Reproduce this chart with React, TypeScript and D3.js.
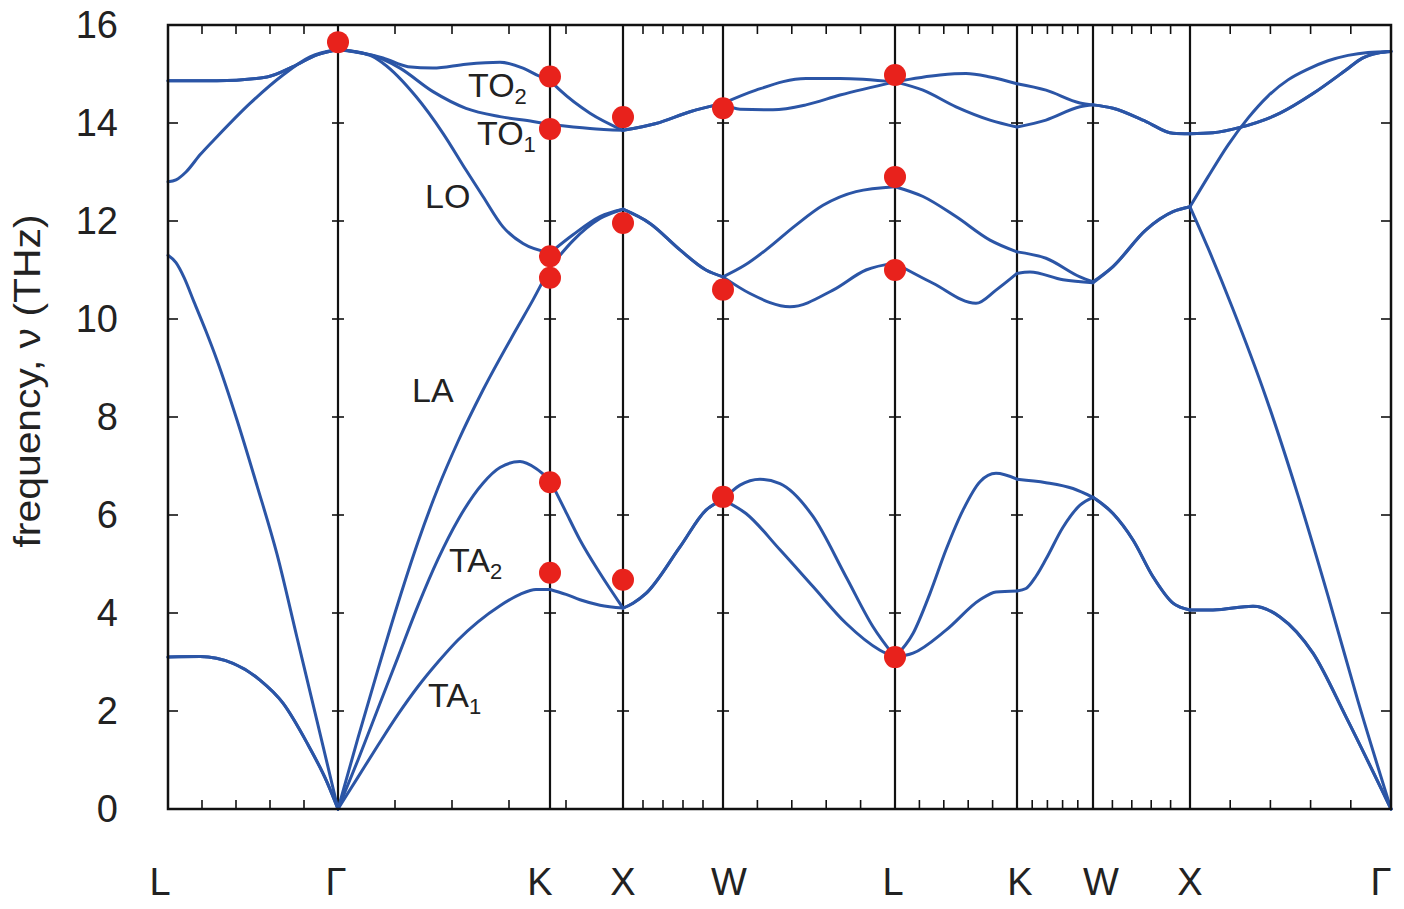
import React from 'react';
import * as d3 from 'd3';

// high-symmetry points along the path (k in units of 2π/a)
const symLabels = ['L', 'Γ', 'K', 'X', 'W', 'L', 'K', 'W', 'X', 'Γ'];
const symK = [0, 0.85, 1.91, 2.275, 2.775, 3.635, 4.245, 4.625, 5.11, 6.115];
const freqTicks = [0, 2, 4, 6, 8, 10, 12, 14, 16];

// phonon branches, [k, frequency THz]
const ta1 = [
  [0, 3.1], [0.16, 3.11], [0.325, 2.97], [0.46, 2.63], [0.575, 2.16], [0.695, 1.35], [0.795, 0.55], [0.85, 0],
  [0.95, 0.65], [1.05, 1.3], [1.15, 1.93], [1.25, 2.5], [1.35, 3.0], [1.45, 3.45], [1.55, 3.82], [1.66, 4.15], [1.76, 4.38], [1.84, 4.48], [1.91, 4.48],
  [1.99, 4.38], [2.06, 4.27], [2.16, 4.16], [2.275, 4.1],
  [2.325, 4.2], [2.39, 4.4], [2.56, 5.35], [2.69, 6.1], [2.775, 6.31],
  [2.89, 6.03], [3.06, 5.29], [3.225, 4.54], [3.39, 3.79], [3.56, 3.24], [3.635, 3.1],
  [3.725, 3.18], [3.89, 3.65], [4.06, 4.27], [4.14, 4.43], [4.245, 4.45],
  [4.29, 4.5], [4.34, 4.75], [4.39, 5.1], [4.475, 5.75], [4.56, 6.2], [4.625, 6.36],
  [4.725, 6.03], [4.825, 5.49], [4.925, 4.74], [5.025, 4.2], [5.11, 4.06],
  [5.225, 4.06], [5.425, 4.14], [5.56, 3.92], [5.725, 3.18], [5.89, 1.88], [6.115, 0],
];
const ta2 = [
  [0, 3.1], [0.16, 3.11], [0.325, 2.97], [0.46, 2.63], [0.575, 2.16], [0.695, 1.35], [0.795, 0.55], [0.85, 0],
  [0.95, 1.0], [1.05, 2.05], [1.15, 3.1], [1.25, 4.15], [1.35, 5.1], [1.45, 5.9], [1.575, 6.65], [1.66, 6.97], [1.76, 7.09], [1.84, 6.95], [1.91, 6.71],
  [1.985, 6.1], [2.06, 5.49], [2.16, 4.81], [2.275, 4.1],
  [2.325, 4.2], [2.39, 4.4], [2.56, 5.35], [2.69, 6.1], [2.775, 6.31],
  [2.86, 6.61], [2.96, 6.73], [3.06, 6.64], [3.225, 5.97], [3.39, 4.74], [3.525, 3.72], [3.635, 3.1],
  [3.725, 3.58], [3.81, 4.4], [3.89, 5.29], [3.975, 6.1], [4.06, 6.68], [4.14, 6.85], [4.245, 6.73],
  [4.39, 6.66], [4.525, 6.54], [4.625, 6.36],
  [4.725, 6.03], [4.825, 5.49], [4.925, 4.74], [5.025, 4.2], [5.11, 4.06],
  [5.225, 4.06], [5.425, 4.14], [5.56, 3.92], [5.725, 3.18], [5.89, 1.88], [6.115, 0],
];
const la = [
  [0, 11.3], [0.04, 11.15], [0.08, 10.85], [0.13, 10.35], [0.19, 9.75], [0.245, 9.16], [0.345, 7.94], [0.445, 6.6], [0.545, 5.2], [0.645, 3.5], [0.745, 1.8], [0.85, 0],
  [0.95, 1.45], [1.05, 2.85], [1.15, 4.2], [1.25, 5.45], [1.35, 6.55], [1.45, 7.5], [1.575, 8.55], [1.74, 9.78], [1.825, 10.39], [1.91, 11.05],
  [2.025, 11.6], [2.16, 12.05], [2.275, 12.24],
  [2.41, 11.95], [2.56, 11.41], [2.69, 11.0], [2.775, 10.86],
  [2.91, 10.52], [3.11, 10.25], [3.325, 10.59], [3.49, 11.0], [3.635, 11.14],
  [3.825, 10.73], [4.04, 10.32], [4.14, 10.59], [4.245, 10.93],
  [4.31, 10.96], [4.475, 10.8], [4.625, 10.74],
  [4.725, 11.07], [4.89, 11.82], [5.025, 12.19], [5.11, 12.29],
  [5.2, 11.45], [5.325, 10.2], [5.49, 8.4], [5.65, 6.4], [5.8, 4.35], [5.95, 2.2], [6.115, 0],
];
const lo = [
  [0, 12.8], [0.04, 12.84], [0.09, 13.0], [0.16, 13.35], [0.245, 13.72], [0.41, 14.4], [0.575, 14.98], [0.71, 15.35], [0.85, 15.5],
  [1.01, 15.38], [1.075, 15.22], [1.24, 14.54], [1.375, 13.79], [1.49, 13.04], [1.575, 12.5], [1.675, 11.88], [1.775, 11.54], [1.91, 11.35],
  [2.025, 11.72], [2.16, 12.09], [2.275, 12.24],
  [2.41, 11.95], [2.56, 11.41], [2.69, 11.0], [2.775, 10.86],
  [2.885, 11.1], [2.99, 11.41], [3.135, 11.9], [3.275, 12.32], [3.44, 12.6], [3.635, 12.7],
  [3.775, 12.5], [3.94, 12.09], [4.11, 11.61], [4.245, 11.37],
  [4.39, 11.24], [4.56, 10.86], [4.625, 10.76],
  [4.725, 11.07], [4.89, 11.82], [5.025, 12.19], [5.11, 12.29],
  [5.2, 12.9], [5.3, 13.55], [5.4, 14.1], [5.5, 14.55], [5.6, 14.88], [5.7, 15.1], [5.8, 15.27], [5.9, 15.38], [6.0, 15.44], [6.115, 15.46],
];
const to1 = [
  [0, 14.86], [0.245, 14.86], [0.495, 14.94], [0.625, 15.15], [0.745, 15.39], [0.85, 15.5],
  [1.075, 15.3], [1.16, 15.12], [1.325, 14.64], [1.49, 14.3], [1.66, 14.13], [1.825, 14.03], [1.91, 13.97],
  [2.11, 13.89], [2.275, 13.85],
  [2.44, 13.99], [2.61, 14.23], [2.775, 14.4],
  [2.86, 14.28], [3.025, 14.27], [3.19, 14.37], [3.36, 14.57], [3.635, 14.84],
  [3.775, 14.67], [3.94, 14.33], [4.11, 14.06], [4.245, 13.92],
  [4.39, 14.06], [4.56, 14.33], [4.625, 14.37],
  [4.725, 14.3], [4.89, 14.03], [5.025, 13.79], [5.11, 13.78],
  [5.225, 13.8], [5.36, 13.91], [5.56, 14.2], [5.725, 14.6], [5.89, 15.08], [5.97, 15.32], [6.05, 15.43], [6.115, 15.46],
];
const to2 = [
  [0, 14.86], [0.245, 14.86], [0.495, 14.94], [0.625, 15.15], [0.745, 15.39], [0.85, 15.5],
  [1.075, 15.33], [1.2, 15.15], [1.325, 15.12], [1.49, 15.2], [1.66, 15.24], [1.775, 15.12], [1.86, 14.95], [1.91, 14.87],
  [1.96, 14.67], [2.11, 14.2], [2.275, 13.85],
  [2.44, 13.99], [2.61, 14.23], [2.775, 14.4],
  [2.94, 14.67], [3.19, 14.91], [3.36, 14.91], [3.635, 14.84],
  [3.86, 14.98], [3.99, 15.01], [4.11, 14.94], [4.245, 14.8],
  [4.39, 14.67], [4.56, 14.41], [4.625, 14.37],
  [4.725, 14.3], [4.89, 14.03], [5.025, 13.79], [5.11, 13.78],
  [5.225, 13.8], [5.36, 13.91], [5.56, 14.2], [5.725, 14.6], [5.89, 15.08], [5.97, 15.32], [6.05, 15.43], [6.115, 15.46],
];

// measured points (red)
const measured = [
  [0.85, 15.65],
  [1.91, 14.95], [1.91, 13.88], [1.91, 11.28], [1.91, 10.84], [1.91, 6.67], [1.91, 4.82],
  [2.275, 14.12], [2.275, 11.96], [2.275, 4.68],
  [2.775, 14.3], [2.775, 10.6], [2.775, 6.37],
  [3.635, 14.98], [3.635, 12.9], [3.635, 11.0], [3.635, 3.1],
];

const modeNames = ['TO', 'TO', 'LO', 'LA', 'TA', 'TA'];
const modeSubs = ['2', '1', '', '', '2', '1'];

const BLUE = '#2b55a6';
const RED = '#e8221c';
const FONT = '"Liberation Sans", Arial, Helvetica, sans-serif';

export default function App() {
  const W = 1404, H = 909;
  const left = 168, right = 1391, top = 25, bottom = 809;

  const x = d3.scaleLinear().domain([symK[0], symK[symK.length - 1]]).range([left, right]);
  const y = d3.scaleLinear().domain([0, 16]).range([bottom, top]);

  const line = d3.line<number[]>()
    .x(d => x(d[0]))
    .y(d => y(d[1]))
    .curve(d3.curveMonotoneX);

  // draw each branch segment by segment so kinks at the symmetry points stay sharp
  const segs = d3.pairs(symK);
  const bands = [ta1, ta2, la, lo, to1, to2];
  const paths: string[] = [];
  bands.forEach(b => {
    segs.forEach(([a, c]) => {
      const pts = b.filter(p => p[0] >= a - 1e-6 && p[0] <= c + 1e-6);
      if (pts.length > 1) paths.push(line(pts) as string);
    });
  });

  // minor ticks: 5 divisions per segment, Γ–K–X counted as one
  const tickSpans = [[0, 1], [1, 3], [3, 4], [4, 5], [5, 6], [6, 7], [7, 8], [8, 9]];
  const minorK: number[] = [];
  tickSpans.forEach(([i, j]) => {
    for (let n = 1; n < 5; n++) minorK.push(symK[i] + (symK[j] - symK[i]) * n / 5);
  });

  // where the mode labels sit (data coords, start of text / baseline)
  const modeAnchors = [[1.5, 14.54], [1.545, 13.55], [1.285, 12.27], [1.22, 8.31], [1.405, 4.84], [1.3, 2.09]];
  const labelNudge = [-8, -2, -10, 0, 6, -2, 3, 8, 0, -10];

  return (
    <svg width={W} height={H} style={{ position: 'absolute', left: 0, top: 0, background: '#fff' }}
      fontFamily={FONT}>
      <rect x={0} y={0} width={W} height={H} fill="#fff" />

      {/* symmetry lines */}
      {symK.slice(1, -1).map((k, i) => (
        <line key={'v' + i} x1={x(k)} x2={x(k)} y1={top} y2={bottom} stroke="#111" strokeWidth={2.2} />
      ))}

      {/* y ticks: left, right and crossing ticks on symmetry lines */}
      {freqTicks.slice(1, -1).map(f => (
        <g key={'yt' + f}>
          <line x1={left} x2={left + 10} y1={y(f)} y2={y(f)} stroke="#111" strokeWidth={1.6} />
          <line x1={right - 10} x2={right} y1={y(f)} y2={y(f)} stroke="#111" strokeWidth={1.6} />
          {symK.slice(1, -1).map((k, i) => (
            <line key={i} x1={x(k) - 6} x2={x(k) + 6} y1={y(f)} y2={y(f)} stroke="#111" strokeWidth={1.6} />
          ))}
        </g>
      ))}

      {/* minor k ticks */}
      {minorK.map((k, i) => (
        <g key={'mk' + i}>
          <line x1={x(k)} x2={x(k)} y1={top} y2={top + 9} stroke="#111" strokeWidth={1.6} />
          <line x1={x(k)} x2={x(k)} y1={bottom - 9} y2={bottom} stroke="#111" strokeWidth={1.6} />
        </g>
      ))}

      {/* branches */}
      {paths.map((d, i) => (
        <path key={'p' + i} d={d} fill="none" stroke={BLUE} strokeWidth={3} strokeLinejoin="round" strokeLinecap="round" />
      ))}

      {/* frame */}
      <rect x={left} y={top} width={right - left} height={bottom - top} fill="none" stroke="#111" strokeWidth={2.5} />

      {/* measured points */}
      {measured.map((d, i) => (
        <circle key={'m' + i} cx={x(d[0])} cy={y(d[1])} r={11} fill={RED} />
      ))}

      {/* mode labels */}
      {modeNames.map((n, i) => (
        <text key={'ml' + i} x={x(modeAnchors[i][0])} y={y(modeAnchors[i][1])} fontSize={34} fill="#222">
          {n}
          {modeSubs[i] && <tspan fontSize={22} dy={7}>{modeSubs[i]}</tspan>}
        </text>
      ))}

      {/* y tick labels */}
      {freqTicks.map(f => (
        <text key={'yl' + f} x={118} y={y(f) + 13} fontSize={38} textAnchor="end" fill="#222">{f}</text>
      ))}

      {/* x labels */}
      {symLabels.map((s, i) => (
        <text key={'xl' + i} x={x(symK[i]) + labelNudge[i]} y={895} fontSize={38} textAnchor="middle" fill="#222">{s}</text>
      ))}

      <text transform="translate(40,381) rotate(-90)" fontSize={36} textAnchor="middle" fill="#222"
        textLength={333} lengthAdjust="spacingAndGlyphs">frequency, ν (THz)</text>
    </svg>
  );
}
